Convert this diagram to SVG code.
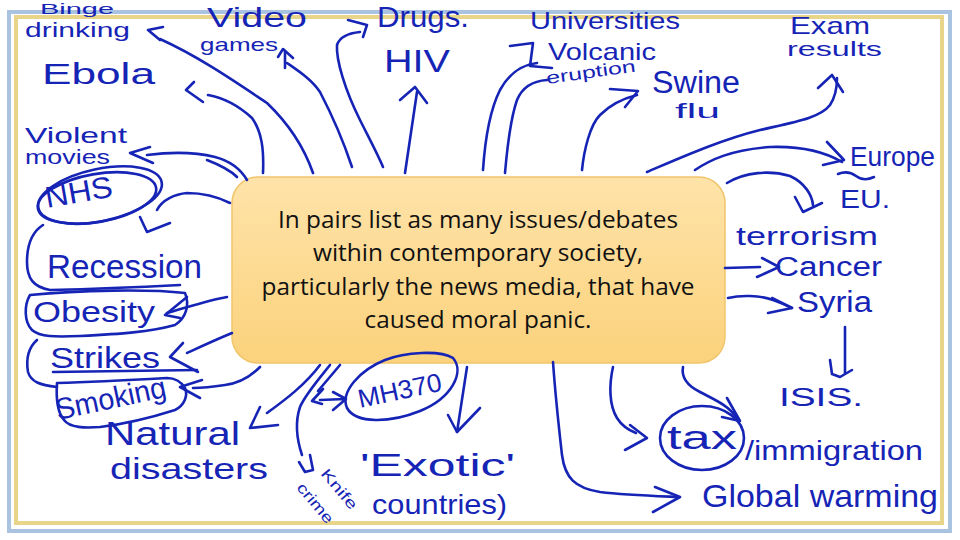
<svg xmlns="http://www.w3.org/2000/svg" width="960" height="540" viewBox="0 0 960 540">
<defs>
<linearGradient id="boxg" x1="0" y1="0" x2="0" y2="1">
<stop offset="0" stop-color="#fee3a9"/>
<stop offset="1" stop-color="#fbd27c"/>
</linearGradient>
</defs>
<style>
.pen{fill:none;stroke:#1624b6;stroke-width:2.6;stroke-linecap:round;stroke-linejoin:round}
.hw{font-family:"Liberation Sans","DejaVu Sans",sans-serif;fill:#1624b6}
.q{font-family:"Open Sans","Liberation Sans",sans-serif;font-size:23px;fill:#111;text-anchor:middle}
</style>
<rect width="960" height="540" fill="#ffffff"/>
<rect x="9" y="12" width="941" height="519" fill="none" stroke="#a9c3e0" stroke-width="4"/>
<rect x="16" y="17" width="926" height="506" fill="none" stroke="#e9d58a" stroke-width="4"/>

<g id="central">
<rect x="232" y="177" width="493" height="186" rx="26" fill="url(#boxg)" stroke="#f1c56c" stroke-width="1.5"/>
<text class="q" x="478" y="228" textLength="400" lengthAdjust="spacingAndGlyphs">In pairs list as many issues/debates</text>
<text class="q" x="478" y="261" textLength="330" lengthAdjust="spacingAndGlyphs">within contemporary society,</text>
<text class="q" x="478" y="295" textLength="433" lengthAdjust="spacingAndGlyphs">particularly the news media, that have</text>
<text class="q" x="478" y="328" textLength="227" lengthAdjust="spacingAndGlyphs">caused moral panic.</text>
</g>

<g id="connectors">
<path class="pen" d="M160,39 C200,57 240,85 267,103 C290,125 305,150 313,173"/>
<path class="pen" d="M163,27 L148,30 L160,40"/>
<path class="pen" d="M208,95 C225,98 240,107 252,118 C262,132 264,150 263,173"/>
<path class="pen" d="M194,82 L186,90 L203,102"/>
<path class="pen" d="M285,52 L285,68 M287,63 C300,72 312,80 320,92 C332,115 343,140 352,167"/>
<path class="pen" d="M278,57 L283,49 L293,58"/>
<path class="pen" d="M360,32 C350,33 340,36 337,45 C336,60 345,90 360,120 C370,140 378,155 383,167"/>
<path class="pen" d="M348,20 L367,25 L363,37"/>
<path class="pen" d="M417,92 L405,173"/>
<path class="pen" d="M400,100 L415,87 L427,103"/>
<path class="pen" d="M483,170 C485,140 490,110 500,90 C510,72 522,65 537,63"/>
<path class="pen" d="M510,46 L533,43 L530,66 L552,68"/>
<path class="pen" d="M505,173 C507,150 510,120 517,100 C522,88 532,81 547,80"/>
<path class="pen" d="M582,170 C584,150 590,125 600,115 C612,103 625,98 637,95"/>
<path class="pen" d="M610,89 L638,91 L625,107"/>
<path class="pen" d="M647,172 C680,158 720,140 760,130 C795,122 820,118 830,105 C836,96 837,88 837,78"/>
<path class="pen" d="M818,88 L832,75 L843,92"/>
<path class="pen" d="M695,170 C710,160 730,150 770,147 C800,146 825,152 842,162"/>
<path class="pen" d="M827,142 L844,160 L823,165"/>
<path class="pen" d="M838,174 Q848,170 856,176 T874,177"/>
<path class="pen" d="M727,183 C745,172 770,170 790,176 C805,183 812,195 813,205"/>
<path class="pen" d="M795,197 L803,212 L822,203"/>
<path class="pen" d="M725,268 L760,267"/>
<path class="pen" d="M762,258 L779,267 L757,277"/>
<path class="pen" d="M728,298 C740,295 760,295 773,300 C782,303 788,306 792,308"/>
<path class="pen" d="M772,298 L792,308 L768,313"/>
<path class="pen" d="M845,327 L845,373"/>
<path class="pen" d="M830,360 L832,374 L840,377 L852,370"/>
<path class="pen" d="M683,367 C681,378 688,386 700,392 C715,400 728,405 737,418"/>
<path class="pen" d="M727,398 L740,421 L722,417"/>
<path class="pen" d="M613,367 C609,385 609,405 617,418 C622,426 628,430 636,433"/>
<path class="pen" d="M630,425 L647,438 L625,450"/>
<path class="pen" d="M553,362 C555,390 558,420 562,455 C565,478 575,488 600,492 C625,495 655,496 678,497"/>
<path class="pen" d="M655,487 L680,497 L653,512"/>
<path class="pen" d="M467,367 L457,432"/>
<path class="pen" d="M448,415 L457,432 L480,408"/>
<path class="pen" d="M453,358 C465,372 452,398 420,411 C390,423 356,424 347,408 C340,392 360,370 385,360 C405,352 440,350 453,358"/>
<path class="pen" d="M340,365 L318,391"/>
<path class="pen" d="M323,389 L312,401 L322,404"/>
<path class="pen" d="M320,400 L345,399 M333,392 L346,399 L333,410"/>
<path class="pen" d="M320,365 C305,385 285,400 267,413"/>
<path class="pen" d="M260,407 L250,428 L278,425"/>
<path class="pen" d="M330,365 C318,380 305,395 300,407 C295,422 297,440 302,455"/>
<path class="pen" d="M299,462 L305,472 L313,470 L310,455"/>
<path class="pen" d="M260,367 C250,377 240,383 225,385 C212,387 200,388 193,388"/>
<path class="pen" d="M202,380 L180,387 L200,398"/>
<path class="pen" d="M232,333 C215,340 200,347 187,353"/>
<path class="pen" d="M183,343 L170,357 L198,372"/>
<path class="pen" d="M53,372 L197,370"/>
<path class="pen" d="M227,297 C210,300 195,305 167,313"/>
<path class="pen" d="M187,297 L165,315 L180,318"/>
<path class="pen" d="M230,203 C220,198 205,193 187,193 C175,194 162,200 157,210"/>
<path class="pen" d="M140,217 L147,232 L170,223"/>
<path class="pen" d="M247,180 C240,168 230,161 215,157 C195,152 170,152 147,155"/>
<path class="pen" d="M150,147 L130,153 L153,163"/>
<path class="pen" d="M207,160 C220,165 230,170 237,177"/>
<path class="pen" d="M43,225 C32,232 27,245 27,262 C27,278 33,287 50,290 C90,289 140,287 180,285"/>
<path class="pen" d="M30,295 C24,305 24,322 32,330 C40,337 55,337 80,336 C120,334 150,332 175,325 C186,318 190,305 185,293 C150,289 80,290 30,295"/>
<path class="pen" d="M37,340 C28,348 26,360 28,372 C31,382 40,385 57,387"/>
<path class="pen" d="M57,383 C56,398 57,412 64,420 C70,428 85,428 100,427 C125,424 150,418 175,410 C185,405 188,395 185,388 C180,380 172,378 167,378 C130,380 90,382 57,383"/>
<ellipse class="pen" cx="100" cy="195" rx="63" ry="26" transform="rotate(-12 100 195)"/>
<ellipse class="pen" cx="97" cy="198" rx="60" ry="24" transform="rotate(-10 97 198)"/>
<ellipse class="pen" cx="702" cy="438" rx="42" ry="32"/>
</g>

<g id="labels">
<text class="hw" x="40" y="14" font-size="15" textLength="74" lengthAdjust="spacingAndGlyphs">Binge</text>
<text class="hw" x="25" y="37" font-size="20" textLength="105" lengthAdjust="spacingAndGlyphs">drinking</text>
<text class="hw" x="42" y="84" font-size="30" textLength="113" lengthAdjust="spacingAndGlyphs">Ebola</text>
<text class="hw" x="207" y="27" font-size="28" textLength="100" lengthAdjust="spacingAndGlyphs">Video</text>
<text class="hw" x="200" y="51" font-size="19" textLength="78" lengthAdjust="spacingAndGlyphs">games</text>
<text class="hw" x="377" y="27" font-size="30" textLength="92" lengthAdjust="spacingAndGlyphs">Drugs.</text>
<text class="hw" x="384" y="72" font-size="32" textLength="66" lengthAdjust="spacingAndGlyphs">HIV</text>
<text class="hw" x="530" y="29" font-size="24" textLength="150" lengthAdjust="spacingAndGlyphs">Universities</text>
<text class="hw" x="548" y="60" font-size="24" textLength="108" lengthAdjust="spacingAndGlyphs">Volcanic</text>
<text class="hw" x="547" y="84" font-size="17" textLength="90" lengthAdjust="spacingAndGlyphs" transform="rotate(-8 547 84)">eruption</text>
<text class="hw" x="652" y="93" font-size="31" textLength="88" lengthAdjust="spacingAndGlyphs">Swine</text>
<text class="hw" x="675" y="118" font-size="20" textLength="45" lengthAdjust="spacingAndGlyphs">flu</text>
<text class="hw" x="790" y="34" font-size="24" textLength="80" lengthAdjust="spacingAndGlyphs">Exam</text>
<text class="hw" x="787" y="56" font-size="20" textLength="95" lengthAdjust="spacingAndGlyphs">results</text>
<text class="hw" x="25" y="143" font-size="22" textLength="102" lengthAdjust="spacingAndGlyphs">Violent</text>
<text class="hw" x="25" y="164" font-size="20" textLength="85" lengthAdjust="spacingAndGlyphs">movies</text>
<text class="hw" x="47" y="208" font-size="30" textLength="68" lengthAdjust="spacingAndGlyphs" transform="rotate(-10 47 208)">NHS</text>
<text class="hw" x="47" y="278" font-size="34" textLength="155" lengthAdjust="spacingAndGlyphs">Recession</text>
<text class="hw" x="33" y="322" font-size="30" textLength="122" lengthAdjust="spacingAndGlyphs">Obesity</text>
<text class="hw" x="50" y="368" font-size="30" textLength="110" lengthAdjust="spacingAndGlyphs">Strikes</text>
<text class="hw" x="58" y="420" font-size="30" textLength="112" lengthAdjust="spacingAndGlyphs" transform="rotate(-12 58 420)">Smoking</text>
<text class="hw" x="105" y="445" font-size="34" textLength="135" lengthAdjust="spacingAndGlyphs">Natural</text>
<text class="hw" x="110" y="479" font-size="30" textLength="158" lengthAdjust="spacingAndGlyphs">disasters</text>
<text class="hw" x="360" y="408" font-size="26" textLength="85" lengthAdjust="spacingAndGlyphs" transform="rotate(-12 360 408)">MH370</text>
<text class="hw" x="360" y="476" font-size="32" textLength="155" lengthAdjust="spacingAndGlyphs">'Exotic'</text>
<text class="hw" x="372" y="514" font-size="28" textLength="135" lengthAdjust="spacingAndGlyphs">countries)</text>
<text class="hw" x="320" y="474" font-size="15" textLength="48" lengthAdjust="spacingAndGlyphs" transform="rotate(50 320 474)">Knife</text>
<text class="hw" x="296" y="488" font-size="15" textLength="48" lengthAdjust="spacingAndGlyphs" transform="rotate(50 296 488)">crime</text>
<text class="hw" x="850" y="166" font-size="28" textLength="85" lengthAdjust="spacingAndGlyphs">Europe</text>
<text class="hw" x="840" y="208" font-size="26" textLength="50" lengthAdjust="spacingAndGlyphs">EU.</text>
<text class="hw" x="736" y="245" font-size="25" textLength="142" lengthAdjust="spacingAndGlyphs">terrorism</text>
<text class="hw" x="775" y="276" font-size="27" textLength="107" lengthAdjust="spacingAndGlyphs">Cancer</text>
<text class="hw" x="797" y="312" font-size="30" textLength="75" lengthAdjust="spacingAndGlyphs">Syria</text>
<text class="hw" x="779" y="406" font-size="26" textLength="84" lengthAdjust="spacingAndGlyphs">ISIS.</text>
<text class="hw" x="667" y="449" font-size="34" textLength="70" lengthAdjust="spacingAndGlyphs">tax</text>
<text class="hw" x="745" y="460" font-size="28" textLength="178" lengthAdjust="spacingAndGlyphs">/immigration</text>
<text class="hw" x="702" y="507" font-size="32" textLength="236" lengthAdjust="spacingAndGlyphs">Global warming</text>
</g>
</svg>
